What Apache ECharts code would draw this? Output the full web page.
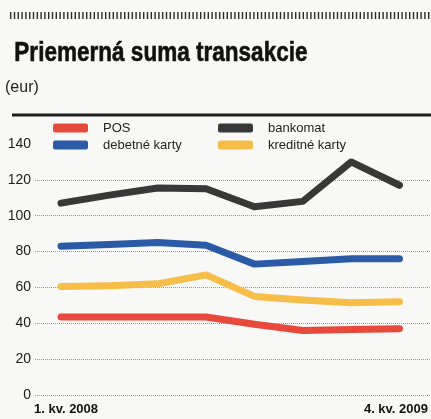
<!DOCTYPE html>
<html>
<head>
<meta charset="utf-8">
<script src="https://cdn.jsdelivr.net/npm/echarts@6/dist/echarts.min.js"></script>
<style>
html,body{margin:0;padding:0;background:#f8f8f7;}
#chart{width:431px;height:419px;}
</style>
</head>
<body>
<div id="chart"></div>
<script>
// Data
var quarters = ['1. kv. 2008','2. kv. 2008','3. kv. 2008','4. kv. 2008','1. kv. 2009','2. kv. 2009','3. kv. 2009','4. kv. 2009'];
var seriesNames = ['POS','bankomat','debetné karty','kreditné karty'];
var posValues = [43.5, 43.5, 43.5, 43.5, 39.5, 36, 36.5, 37];
var bankomatValues = [107, 111.5, 115.5, 115, 105, 108, 130, 117];
var debetneValues = [83, 84, 85, 83.5, 73, 74.5, 76, 76];
var kreditneValues = [60.5, 61, 62, 67, 55, 53, 51.5, 52];
var yTicks = [0, 20, 40, 60, 80, 100, 120, 140];
var titleText = 'Priemerná suma transakcie';
var unitText = '(eur)';

var colors = {
  'POS': '#e8493d',
  'bankomat': '#383838',
  'debetné karty': '#2b5ba7',
  'kreditné karty': '#f6bd48'
};

var chart = echarts.init(document.getElementById('chart'), null, {renderer:'canvas'});

function mkLegend(name, left, top) {
  return {
    data: [name], left: left, top: top, padding: 0,
    icon: 'roundRect', itemWidth: 35, itemHeight: 9,
    selectedMode: false,
    textStyle: {fontFamily: 'Liberation Sans, Arial, sans-serif', fontSize: 13, color: '#1e1e1e', padding: [0,0,0,10]}
  };
}

function mkSeries(name, values) {
  return {
    name: name, type: 'line', data: values, xAxisIndex: 1, yAxisIndex: 1,
    symbol: 'none', color: colors[name],
    lineStyle: {width: 7, color: colors[name], cap: 'round', join: 'round'},
    emphasis: {disabled: true}
  };
}

var option = {
  animation: false,
  backgroundColor: '#f8f8f7',
  graphic: [
    {type: 'line', shape: {x1: 10, y1: 15.5, x2: 431, y2: 15.5},
     style: {stroke: '#2a2a2a', lineWidth: 7, lineDash: [1.4, 2.4]}},
    {type: 'text', x: 12, y: 53, scaleX: 0.805, originX: 12, originY: 53,
     style: {text: titleText, font: 'bold 28px "Liberation Sans", Arial, sans-serif', fill: '#111', verticalAlign: 'middle', align: 'left', stroke: '#111', lineWidth: 0.6}},
    {type: 'text', x: 5, y: 87.5,
     style: {text: unitText, font: '16px "Liberation Sans", Arial, sans-serif', fill: '#222', verticalAlign: 'middle', align: 'left'}},
    {type: 'line', shape: {x1: 12, y1: 115, x2: 431, y2: 115},
     style: {stroke: '#1e1e1e', lineWidth: 3}}
  ],
  legend: [
    mkLegend('POS', 53, 121.5),
    mkLegend('bankomat', 218, 121.5),
    mkLegend('debetné karty', 53, 138.5),
    mkLegend('kreditné karty', 218, 138.5)
  ],
  grid: [
    {left: 35, right: 0, top: 144, bottom: 24},
    {left: 61, right: 21, top: 144, bottom: 24}
  ],
  xAxis: [
    {type: 'value', gridIndex: 0, show: false, min: 0, max: 1},
    {type: 'category', gridIndex: 1, data: quarters, boundaryGap: false,
     axisLine: {show: false}, axisTick: {show: false},
     axisLabel: {
       interval: function(i){ return i === 0 || i === quarters.length - 1; },
       margin: 8,
       formatter: function(v, i){ return i === 0 ? '{a|' + v + '}' : '{b|' + v + '}'; },
       rich: {
         a: {fontFamily: 'Liberation Sans, Arial, sans-serif', fontSize: 13, fontWeight: 'bold', color: '#111', padding: [0,0,0,10]},
         b: {fontFamily: 'Liberation Sans, Arial, sans-serif', fontSize: 13, fontWeight: 'bold', color: '#111', padding: [0,7,0,0]}
       }
     }}
  ],
  yAxis: [
    {type: 'value', gridIndex: 0, min: yTicks[0], max: yTicks[yTicks.length-1], interval: yTicks[1]-yTicks[0],
     axisLine: {show: false}, axisTick: {show: false},
     axisLabel: {margin: 4, fontFamily: 'Liberation Sans, Arial, sans-serif', fontSize: 14, color: '#1a1a1a'},
     splitLine: {show: true, showMaxLine: false, lineStyle: {type: 'dotted', color: '#9a9a9a', width: 1}}},
    {type: 'value', gridIndex: 1, min: yTicks[0], max: yTicks[yTicks.length-1], interval: yTicks[1]-yTicks[0], show: false,
     splitLine: {show: false}}
  ],
  series: [
    mkSeries('POS', posValues),
    mkSeries('bankomat', bankomatValues),
    mkSeries('debetné karty', debetneValues),
    mkSeries('kreditné karty', kreditneValues)
  ]
};
chart.setOption(option);
</script>
</body>
</html>
